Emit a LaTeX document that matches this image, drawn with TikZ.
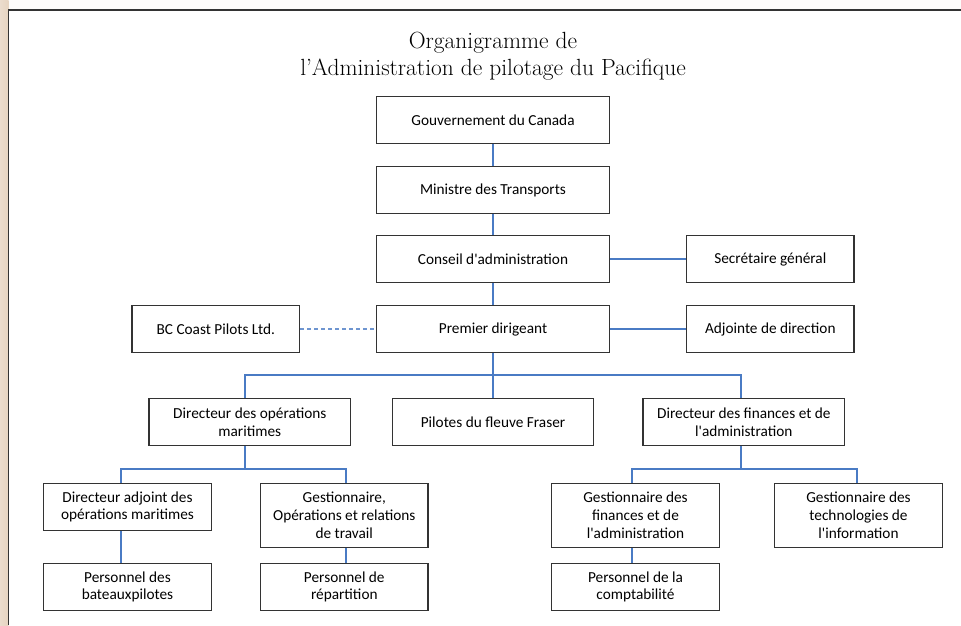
\documentclass[tikz,border=0pt]{standalone}
\usepackage{fontspec}
\usepackage[usenames,dvipsnames]{xcolor}
\usepackage{tikz}
\usetikzlibrary{calc}
\newfontfamily\boitefont{Carlito}
\definecolor{bleulien}{HTML}{4A7BC4}
\definecolor{grisboite}{HTML}{333333}
\definecolor{beige}{HTML}{E6D3C0}

\begin{document}
\begin{tikzpicture}[x=1pt,y=-1pt,
boite/.style={draw=grisboite,line width=1.3pt,fill=white,align=center,inner sep=0pt,minimum height=46.6pt,font=\boitefont\fontsize{15.3}{17.8}\selectfont},
large/.style={boite,minimum width=232.6pt},
moyen/.style={boite,minimum width=201.6pt},
petit/.style={boite,minimum width=167.6pt},
haut/.style={minimum height=63.6pt},
lien/.style={draw=bleulien,line width=1.5pt},
pointille/.style={lien,dash pattern=on 4pt off 3pt,draw=bleulien!80}]
\useasboundingbox (0,0) rectangle (961,625);
\fill [white!94!beige] (0,0) rectangle (961,625);
\shade [left color=beige!80, right color=beige] (0,0) rectangle (8.5,625);
\fill [white] (8.5,10) rectangle (961,625);
\draw [grisboite,line width=1.3pt] (8.5,625) -- (8.5,10) -- (961,10);

\node [font=\fontsize{23.4}{26.5}\selectfont,align=center] (titre) at (493,56) {Organigramme de\\l'Administration de pilotage du Pacifique};

% axe central
\node [large] (gouv) at (493,120) {Gouvernement du Canada};
\node [large] (min) at (493,190) {Ministre des Transports};
\node [large] (cons) at (493,259) {Conseil d'administration};
\node [petit] (sec) at (770.3,259) {Secrétaire général};
\node [large] (prem) at (493,329) {Premier dirigeant};
\node [petit] (bc) at (215.8,329) {BC Coast Pilots Ltd.};
\node [petit] (adj) at (770.3,329) {Adjointe de direction};

% directions
\node [moyen] (dops) at (249.8,422) {Directeur des opérations\\maritimes};
\node [moyen] (pil) at (493,422) {Pilotes du fleuve Fraser};
\node [moyen] (dfin) at (743.8,422) {Directeur des finances et de\\l'administration};

\node [petit] (dadj) at (127.5,507) {Directeur adjoint des\\opérations maritimes};
\node [petit,haut] (gops) at (344.3,515.5) {Gestionnaire,\\Opérations et relations\\de travail};
\node [petit,haut] (gfin) at (635.5,515.5) {Gestionnaire des\\finances et de\\l'administration};
\node [petit,haut] (gti) at (858.5,515.5) {Gestionnaire des\\technologies de\\l'information};

\node [petit] (pbat) at (127.5,587) {Personnel des\\bateauxpilotes};
\node [petit] (prep) at (344.3,587) {Personnel de\\répartition};
\node [petit] (pcomp) at (635.5,587) {Personnel de la\\comptabilité};

\draw [lien] (gouv) -- (min);
\draw [lien] (min) -- (cons);
\draw [lien] (cons) -- (prem);
\draw [lien] (cons) -- (sec);
\draw [lien] (prem) -- (adj);
\draw [pointille] (bc) -- (prem);
\draw [lien] (prem) -- (pil);
\draw [lien] ($(dops.north)+(-4.8,0)$) -- ++(0,-23.3) -| ($(dfin.north)+(-2.8,0)$);
\draw [lien] ($(dops.south)+(-4.8,0)$) -- ++(0,23) -| ($(dadj.north)+(-6.5,0)$);
\draw [lien] ($(dops.south)+(-4.8,23)$) -| ($(gops.north)+(1.7,0)$);
\draw [lien] ($(dfin.south)+(-2.8,0)$) -- ++(0,23) -| ($(gfin.north)+(-3.5,0)$);
\draw [lien] ($(dfin.south)+(-2.8,23)$) -| ($(gti.north)+(-1.5,0)$);
\draw [lien] ($(dadj.south)+(-6.5,0)$) -- ($(pbat.north)+(-6.5,0)$);
\draw [lien] ($(gops.south)+(1.7,0)$) -- ($(prep.north)+(1.7,0)$);
\draw [lien] ($(gfin.south)+(-3.5,0)$) -- ($(pcomp.north)+(-3.5,0)$);
\end{tikzpicture}
\end{document}
